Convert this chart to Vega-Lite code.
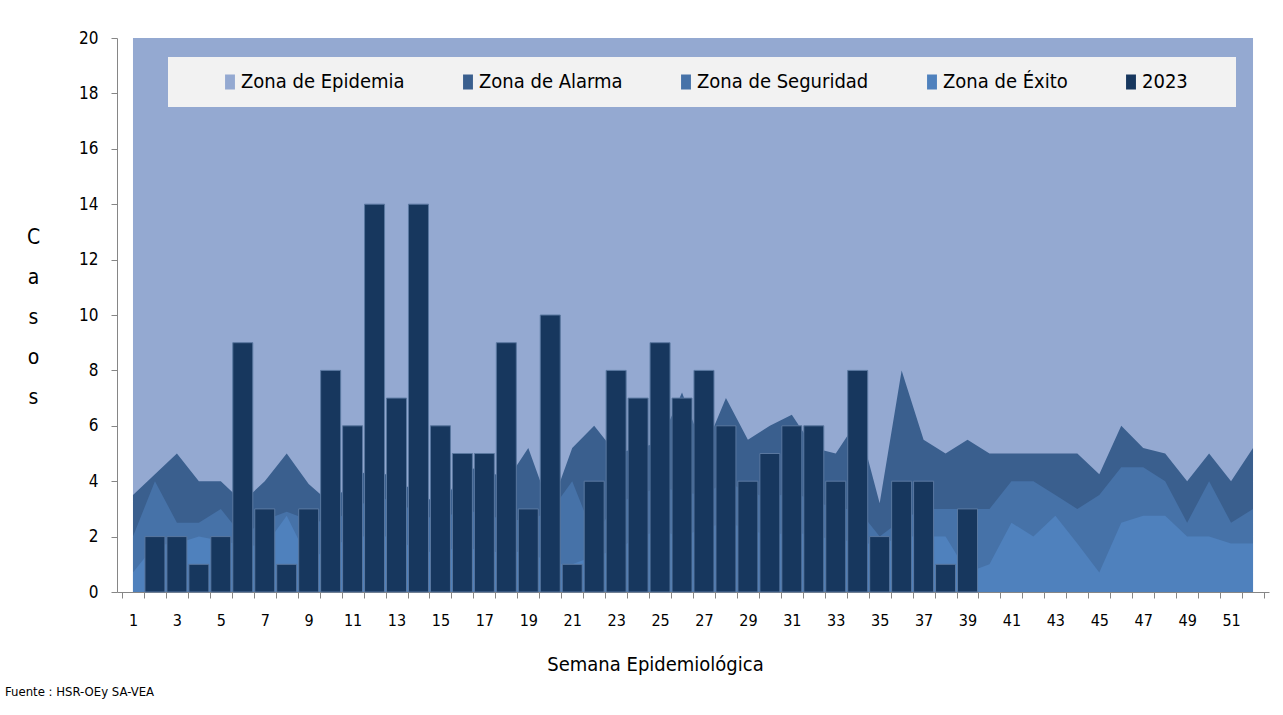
{
  "$schema": "https://vega.github.io/schema/vega-lite/v6.json",
  "width": 1152,
  "height": 554,
  "autosize": {"type": "none"},
  "padding": {"left": 117, "top": 38, "right": 14, "bottom": 123},
  "background": "white",
  "config": {
    "view": {"stroke": null},
    "font": "DejaVu Sans Condensed, Liberation Sans Narrow, Roboto, sans-serif"
  },
  "title": {
    "text": "Fuente : HSR-OEy SA-VEA",
    "orient": "bottom",
    "anchor": "start",
    "frame": "group",
    "fontSize": 13,
    "fontWeight": "normal",
    "font": "DejaVu Sans Condensed, Liberation Sans Narrow, Roboto, sans-serif",
    "color": "black",
    "dx": -112,
    "offset": 12
  },
  "data": {
    "values": [
      {"semana": 1, "epidemia": 20, "alarma": 3.5, "seguridad": 2.0, "exito": 0.7, "casos": 0},
      {"semana": 2, "epidemia": 20, "alarma": 4.25, "seguridad": 4.0, "exito": 1.7, "casos": 2},
      {"semana": 3, "epidemia": 20, "alarma": 5.0, "seguridad": 2.5, "exito": 1.75, "casos": 2},
      {"semana": 4, "epidemia": 20, "alarma": 4.0, "seguridad": 2.5, "exito": 2.0, "casos": 1},
      {"semana": 5, "epidemia": 20, "alarma": 4.0, "seguridad": 3.0, "exito": 1.85, "casos": 2},
      {"semana": 6, "epidemia": 20, "alarma": 3.25, "seguridad": 2.0, "exito": 1.7, "casos": 9},
      {"semana": 7, "epidemia": 20, "alarma": 4.0, "seguridad": 2.6, "exito": 1.65, "casos": 3},
      {"semana": 8, "epidemia": 20, "alarma": 5.0, "seguridad": 2.9, "exito": 2.75, "casos": 1},
      {"semana": 9, "epidemia": 20, "alarma": 3.9, "seguridad": 2.6, "exito": 1.15, "casos": 3},
      {"semana": 10, "epidemia": 20, "alarma": 3.2, "seguridad": 2.5, "exito": 1.6, "casos": 8},
      {"semana": 11, "epidemia": 20, "alarma": 4.0, "seguridad": 3.0, "exito": 2.0, "casos": 6},
      {"semana": 12, "epidemia": 20, "alarma": 4.6, "seguridad": 3.4, "exito": 2.0, "casos": 14},
      {"semana": 13, "epidemia": 20, "alarma": 3.9, "seguridad": 3.3, "exito": 2.0, "casos": 7},
      {"semana": 14, "epidemia": 20, "alarma": 3.7, "seguridad": 2.8, "exito": 1.4, "casos": 14},
      {"semana": 15, "epidemia": 20, "alarma": 3.0, "seguridad": 2.6, "exito": 1.5, "casos": 6},
      {"semana": 16, "epidemia": 20, "alarma": 4.4, "seguridad": 3.0, "exito": 1.6, "casos": 5},
      {"semana": 17, "epidemia": 20, "alarma": 4.5, "seguridad": 2.8, "exito": 1.5, "casos": 5},
      {"semana": 18, "epidemia": 20, "alarma": 4.0, "seguridad": 2.6, "exito": 1.4, "casos": 9},
      {"semana": 19, "epidemia": 20, "alarma": 5.2, "seguridad": 2.6, "exito": 1.5, "casos": 3},
      {"semana": 20, "epidemia": 20, "alarma": 3.0, "seguridad": 2.9, "exito": 1.0, "casos": 10},
      {"semana": 21, "epidemia": 20, "alarma": 5.2, "seguridad": 4.0, "exito": 1.0, "casos": 1},
      {"semana": 22, "epidemia": 20, "alarma": 6.0, "seguridad": 2.0, "exito": 1.3, "casos": 4},
      {"semana": 23, "epidemia": 20, "alarma": 5.0, "seguridad": 3.2, "exito": 1.5, "casos": 8},
      {"semana": 24, "epidemia": 20, "alarma": 5.2, "seguridad": 3.5, "exito": 2.0, "casos": 7},
      {"semana": 25, "epidemia": 20, "alarma": 5.4, "seguridad": 3.8, "exito": 2.2, "casos": 9},
      {"semana": 26, "epidemia": 20, "alarma": 7.2, "seguridad": 3.6, "exito": 2.0, "casos": 7},
      {"semana": 27, "epidemia": 20, "alarma": 5.1, "seguridad": 3.5, "exito": 2.3, "casos": 8},
      {"semana": 28, "epidemia": 20, "alarma": 7.0, "seguridad": 4.0, "exito": 2.5, "casos": 6},
      {"semana": 29, "epidemia": 20, "alarma": 5.5, "seguridad": 3.6, "exito": 2.3, "casos": 4},
      {"semana": 30, "epidemia": 20, "alarma": 6.0, "seguridad": 3.4, "exito": 2.0, "casos": 5},
      {"semana": 31, "epidemia": 20, "alarma": 6.4, "seguridad": 3.6, "exito": 2.2, "casos": 6},
      {"semana": 32, "epidemia": 20, "alarma": 5.2, "seguridad": 3.3, "exito": 2.0, "casos": 6},
      {"semana": 33, "epidemia": 20, "alarma": 5.0, "seguridad": 3.0, "exito": 1.9, "casos": 4},
      {"semana": 34, "epidemia": 20, "alarma": 6.2, "seguridad": 3.0, "exito": 1.8, "casos": 8},
      {"semana": 35, "epidemia": 20, "alarma": 3.2, "seguridad": 2.0, "exito": 1.7, "casos": 2},
      {"semana": 36, "epidemia": 20, "alarma": 8.0, "seguridad": 2.6, "exito": 2.0, "casos": 4},
      {"semana": 37, "epidemia": 20, "alarma": 5.5, "seguridad": 3.0, "exito": 2.0, "casos": 4},
      {"semana": 38, "epidemia": 20, "alarma": 5.0, "seguridad": 3.0, "exito": 2.0, "casos": 1},
      {"semana": 39, "epidemia": 20, "alarma": 5.5, "seguridad": 3.0, "exito": 0.7, "casos": 3},
      {"semana": 40, "epidemia": 20, "alarma": 5.0, "seguridad": 3.0, "exito": 1.0},
      {"semana": 41, "epidemia": 20, "alarma": 5.0, "seguridad": 4.0, "exito": 2.5},
      {"semana": 42, "epidemia": 20, "alarma": 5.0, "seguridad": 4.0, "exito": 2.0},
      {"semana": 43, "epidemia": 20, "alarma": 5.0, "seguridad": 3.5, "exito": 2.75},
      {"semana": 44, "epidemia": 20, "alarma": 5.0, "seguridad": 3.0, "exito": 1.75},
      {"semana": 45, "epidemia": 20, "alarma": 4.25, "seguridad": 3.5, "exito": 0.7},
      {"semana": 46, "epidemia": 20, "alarma": 6.0, "seguridad": 4.5, "exito": 2.5},
      {"semana": 47, "epidemia": 20, "alarma": 5.2, "seguridad": 4.5, "exito": 2.75},
      {"semana": 48, "epidemia": 20, "alarma": 5.0, "seguridad": 4.0, "exito": 2.75},
      {"semana": 49, "epidemia": 20, "alarma": 4.0, "seguridad": 2.5, "exito": 2.0},
      {"semana": 50, "epidemia": 20, "alarma": 5.0, "seguridad": 4.0, "exito": 2.0},
      {"semana": 51, "epidemia": 20, "alarma": 4.0, "seguridad": 2.5, "exito": 1.75},
      {"semana": 52, "epidemia": 20, "alarma": 5.2, "seguridad": 3.0, "exito": 1.75}
    ]
  },
  "resolve": {"axis": {"x": "independent"}},
  "encoding": {
    "y": {
      "type": "quantitative",
      "scale": {"domain": [0, 20], "nice": false},
      "axis": {
        "values": [0, 2, 4, 6, 8, 10, 12, 14, 16, 18, 20],
        "grid": false,
        "tickSize": 6,
        "tickColor": "#868686",
        "domainColor": "#868686",
        "labelFontSize": 17,
        "labelColor": "black",
        "labelPadding": 13,
        "title": ["C", "a", "s", "o", "s"],
        "titleAngle": 0,
        "titleFontSize": 21,
        "titleFontWeight": "normal",
        "titleColor": "black",
        "titleLineHeight": 40,
        "titleX": -84,
        "titleY": 199,
        "titleAlign": "center",
        "titleBaseline": "middle"
      }
    }
  },
  "layer": [
    {
      "mark": {"type": "area", "opacity": 1},
      "encoding": {
        "x": {
          "field": "semana",
          "type": "quantitative",
          "scale": {"domain": [0.5, 52.5], "nice": false, "zero": false},
          "axis": {
            "orient": "bottom",
            "values": [0.5, 1.5, 2.5, 3.5, 4.5, 5.5, 6.5, 7.5, 8.5, 9.5, 10.5, 11.5, 12.5, 13.5, 14.5, 15.5, 16.5, 17.5, 18.5, 19.5, 20.5, 21.5, 22.5, 23.5, 24.5, 25.5, 26.5, 27.5, 28.5, 29.5, 30.5, 31.5, 32.5, 33.5, 34.5, 35.5, 36.5, 37.5, 38.5, 39.5, 40.5, 41.5, 42.5, 43.5, 44.5, 45.5, 46.5, 47.5, 48.5, 49.5, 50.5, 51.5, 52.5],
            "labels": false,
            "grid": false,
            "tickSize": 6,
            "tickColor": "#868686",
            "domainColor": "#868686",
            "title": null
          }
        },
        "y": {"field": "epidemia"},
        "color": {
          "datum": "Zona de Epidemia",
          "type": "nominal",
          "scale": {
            "domain": ["Zona de Epidemia", "Zona de Alarma", "Zona de Seguridad", "Zona de Éxito", "2023"],
            "range": ["#94a9d1", "#3a5f8e", "#4672a8", "#4f81bd", "#17375e"]
          },
          "legend": {
            "orient": "none",
            "legendX": 51,
            "legendY": 19,
            "direction": "horizontal",
            "title": " ",
            "titleFontSize": 1,
            "titleOrient": "right",
            "titlePadding": 33,
            "fillColor": "#f2f2f2",
            "padding": 15,
            "symbolOffset": 37,
            "symbolType": "M-0.66,-1H0.66V1H-0.66Z",
            "symbolSize": 225,
            "symbolStrokeWidth": 0,
            "symbolOpacity": 1,
            "labelFontSize": 20,
            "labelColor": "black",
            "labelLimit": 0,
            "labelOffset": 1,
            "columnPadding": 16
          }
        }
      }
    },
    {
      "mark": {"type": "area", "opacity": 1},
      "encoding": {
        "x": {"field": "semana", "type": "quantitative", "axis": null},
        "y": {"field": "alarma"},
        "color": {"datum": "Zona de Alarma", "type": "nominal"}
      }
    },
    {
      "mark": {"type": "area", "opacity": 1},
      "encoding": {
        "x": {"field": "semana", "type": "quantitative", "axis": null},
        "y": {"field": "seguridad"},
        "color": {"datum": "Zona de Seguridad", "type": "nominal"}
      }
    },
    {
      "mark": {"type": "area", "opacity": 1},
      "encoding": {
        "x": {"field": "semana", "type": "quantitative", "axis": null},
        "y": {"field": "exito"},
        "color": {"datum": "Zona de Éxito", "type": "nominal"}
      }
    },
    {
      "transform": [{"filter": "datum.casos > 0"}],
      "mark": {"type": "bar", "width": 20, "stroke": "#5a78a0", "strokeWidth": 1},
      "encoding": {
        "x": {
          "field": "semana",
          "type": "quantitative",
          "axis": {
            "orient": "bottom",
            "values": [1, 3, 5, 7, 9, 11, 13, 15, 17, 19, 21, 23, 25, 27, 29, 31, 33, 35, 37, 39, 41, 43, 45, 47, 49, 51],
            "format": "d",
            "ticks": false,
            "domain": false,
            "grid": false,
            "tickSize": 0,
            "labelOverlap": false,
            "labelFlush": false,
            "labelFontSize": 16,
            "labelColor": "black",
            "labelPadding": 20,
            "title": "Semana  Epidemiológica",
            "titleFontSize": 20,
            "titleFontWeight": "normal",
            "titleColor": "black",
            "titleX": 538,
            "titleY": 72,
            "titleAlign": "center",
            "titleBaseline": "middle"
          }
        },
        "y": {"field": "casos"},
        "color": {"datum": "2023", "type": "nominal"}
      }
    }
  ]
}
